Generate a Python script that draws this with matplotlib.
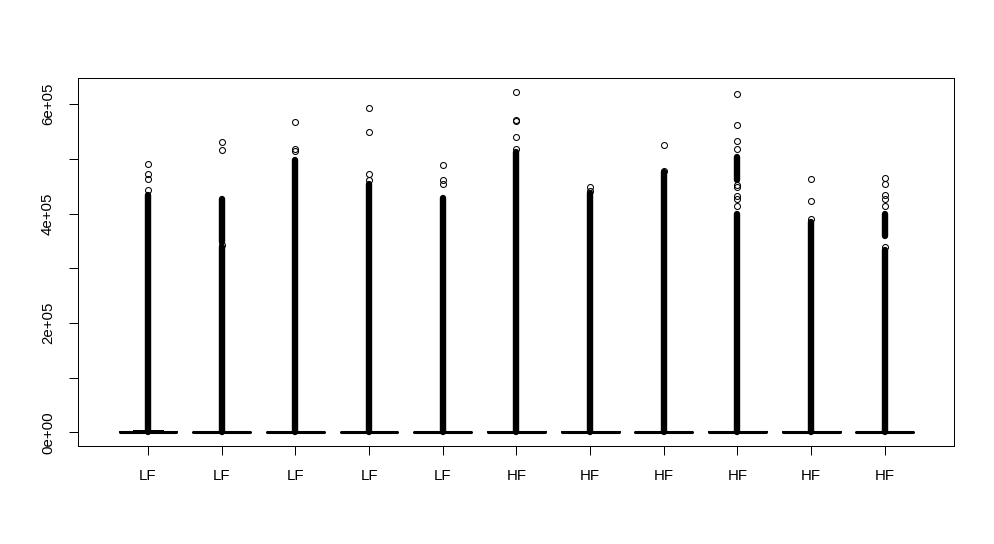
import numpy as np
import matplotlib
matplotlib.use("Agg")
import matplotlib.pyplot as plt

plt.rcParams['font.family'] = ['Liberation Sans', 'DejaVu Sans']

# Groupes et statistiques des boîtes
labels = ["LF", "LF", "LF", "LF", "LF", "HF", "HF", "HF", "HF", "HF", "HF"]
q1 = [0, 0, 0, 0, 0, 0, 0, 0, 0, 0, 0]
med = [300, 200, 200, 200, 200, 300, 300, 200, 300, 300, 200]
q3 = [1500, 1200, 1200, 1200, 1200, 1500, 1500, 1200, 1500, 1500, 1200]
whisk_hi = [3500, 2500, 2500, 2500, 2500, 3000, 3000, 2500, 3000, 3000, 2500]

# Zones où les valeurs aberrantes se chevauchent (colonne noire continue)
dense = [
    [(0, 434000)],
    [(0, 338000), (348000, 426000)],
    [(0, 498000)],
    [(0, 455000)],
    [(0, 428000)],
    [(0, 513000)],
    [(0, 437000)],
    [(0, 476000)],
    [(0, 400000), (461000, 504000)],
    [(0, 385000)],
    [(0, 333000), (359000, 400000)],
]

# Valeurs aberrantes isolées
outliers = [
    [491000, 472000, 463000, 443000],
    [531000, 516000, 343000],
    [567000, 518000, 515000],
    [593000, 549000, 472000, 462000],
    [488000, 461000, 455000],
    [622000, 572000, 569000, 540000, 519000],
    [448000, 442000],
    [525000, 478000],
    [618000, 562000, 532000, 518000, 453000, 449000, 432000, 427000, 413000],
    [463000, 423000, 391000],
    [465000, 455000, 434000, 426000, 413000, 339000],
]

fig = plt.figure(figsize=(9.95, 5.44), dpi=100)
ax = fig.add_axes([78 / 995, 98 / 544, 876 / 995, 368 / 544])

pos = np.arange(1, len(labels) + 1)
stats = []
for i in range(len(labels)):
    stats.append(dict(med=med[i], q1=q1[i], q3=q3[i], whislo=q1[i],
                      whishi=whisk_hi[i], fliers=[]))

lw = 0.72
ax.bxp(stats, positions=pos, widths=0.8, capwidths=0.4, showfliers=False,
       boxprops=dict(color="black", linewidth=lw),
       whiskerprops=dict(color="black", linewidth=lw, linestyle="--"),
       capprops=dict(color="black", linewidth=lw),
       medianprops=dict(color="black", linewidth=2.2))

for i, p in enumerate(pos):
    for lo, hi in dense[i]:
        ax.plot([p, p], [lo, hi], color="black", linewidth=4.6,
                solid_capstyle="round")
    ax.plot([p] * len(outliers[i]), outliers[i], linestyle="none", marker="o",
            markersize=4.3, markerfacecolor="none", markeredgecolor="black",
            markeredgewidth=0.75)

ax.set_xlim(0.05, 11.94)
ax.set_ylim(-25060, 648000)

ax.set_xticks(pos)
ax.set_xticklabels(labels, fontsize=10.8)
yt = np.arange(0, 700000, 100000)
ax.set_yticks(yt)
ax.set_yticklabels(["0e+00", "", "2e+05", "", "4e+05", "", "6e+05"],
                   fontsize=10.8, rotation=90, va="center")
ax.tick_params(length=6.5, width=lw, pad=10, colors="black")
for s in ax.spines.values():
    s.set_linewidth(lw)

fig.savefig("out.png", dpi=100)
